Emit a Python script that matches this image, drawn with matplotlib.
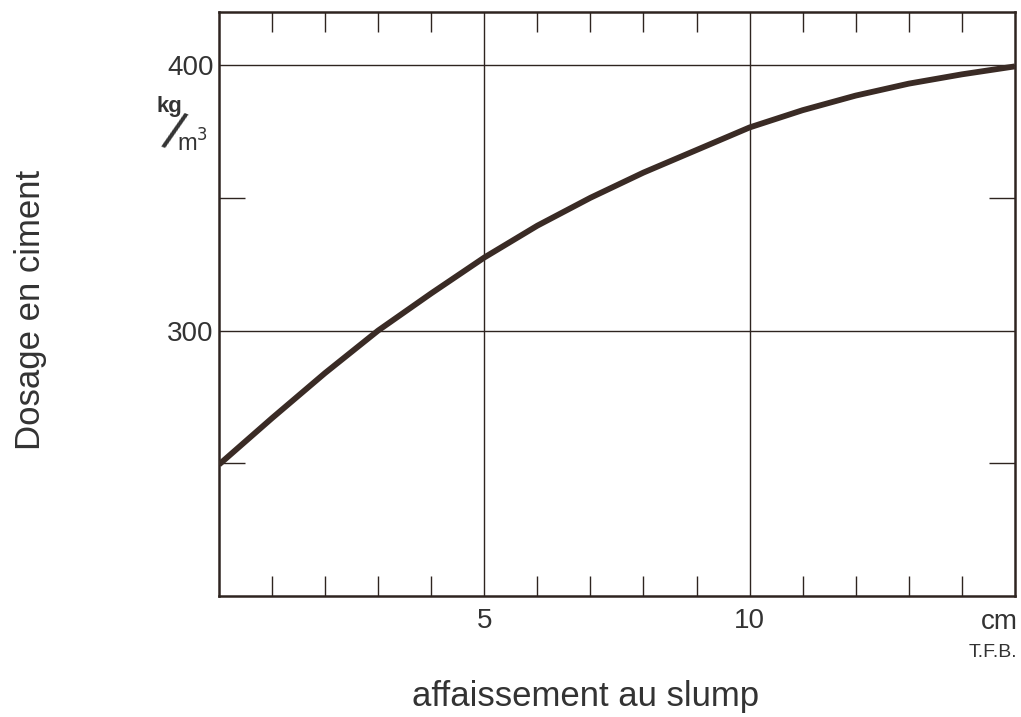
import numpy as np
import matplotlib
matplotlib.use("Agg")
import matplotlib.pyplot as plt

plt.rcParams['font.family'] = ['Liberation Sans', 'DejaVu Sans']

# slump (cm) and cement dosage (kg/m3)
slump = [0, 1, 2, 3, 4, 5, 6, 7, 8, 9, 10, 11, 12, 13, 14, 15]
dosage = [249.5, 267, 284, 300, 314, 327.5, 339.5, 350, 359.5, 368,
          376.5, 383, 388.5, 393, 396.5, 399.5]

x_labels = ["5", "10"]
x_major = [5, 10]
y_major = [300, 400]
y_labels = ["300", "400"]

ink = "#2e2420"
txt = "#333333"

fig = plt.figure(figsize=(10.21, 7.17), dpi=100)
ax = fig.add_axes([0.2145, 0.1688, 0.7795, 0.8145])

ax.plot(slump, dosage, color="#3a2b25", lw=4.2, solid_capstyle="butt",
        solid_joinstyle="round", zorder=3)

ax.set_xlim(0, 15)
ax.set_ylim(200, 420)

# Axes frame
for sp in ax.spines.values():
    sp.set_linewidth(1.8)
    sp.set_color(ink)

# Major ticks carry grid lines and labels
ax.set_xticks(x_major)
ax.set_xticklabels(x_labels)
ax.set_yticks(y_major)
ax.set_yticklabels(y_labels)
ax.tick_params(which="major", length=0, labelsize=20, labelcolor=txt)
ax.tick_params(axis="x", which="major", pad=9)
ax.tick_params(axis="y", which="major", pad=4)
ax.grid(True, which="major", color=ink, lw=1.0)

# Minor ticks inside the frame
ax.set_xticks([i for i in range(1, 15) if i not in x_major], minor=True)
ax.set_yticks([250, 350], minor=True)
ax.tick_params(axis="x", which="minor", direction="in", top=True, bottom=True,
               length=14.5, width=1.0, color=ink)
ax.tick_params(axis="y", which="minor", direction="in", left=True, right=True,
               length=19, width=1.0, color=ink)

# Unit labels
ax.text(15.05, -0.045, "cm", transform=ax.get_xaxis_transform(), ha="right",
        va="center", fontsize=20, color=txt)
ax.text(15.05, -0.096, "T.F.B.", transform=ax.get_xaxis_transform(), ha="right",
        va="center", fontsize=14, color=txt)
ax.text(-0.062, 0.838, "kg", transform=ax.transAxes, ha="center", va="center",
        fontsize=16, color=txt, fontweight="bold")
ax.text(-0.058, 0.79, "/", transform=ax.transAxes, ha="center", va="center",
        fontsize=38, color=txt, rotation=-20)
ax.text(-0.033, 0.775, "m$^3$", transform=ax.transAxes, ha="center",
        va="center", fontsize=17, color=txt)

fig.text(0.030, 0.568, "Dosage en ciment", rotation=90, ha="center",
         va="center", fontsize=25, color=txt)
fig.text(0.574, 0.028, "affaissement au slump", ha="center", va="center",
         fontsize=25, color=txt)

fig.savefig("out.png", dpi=100)
